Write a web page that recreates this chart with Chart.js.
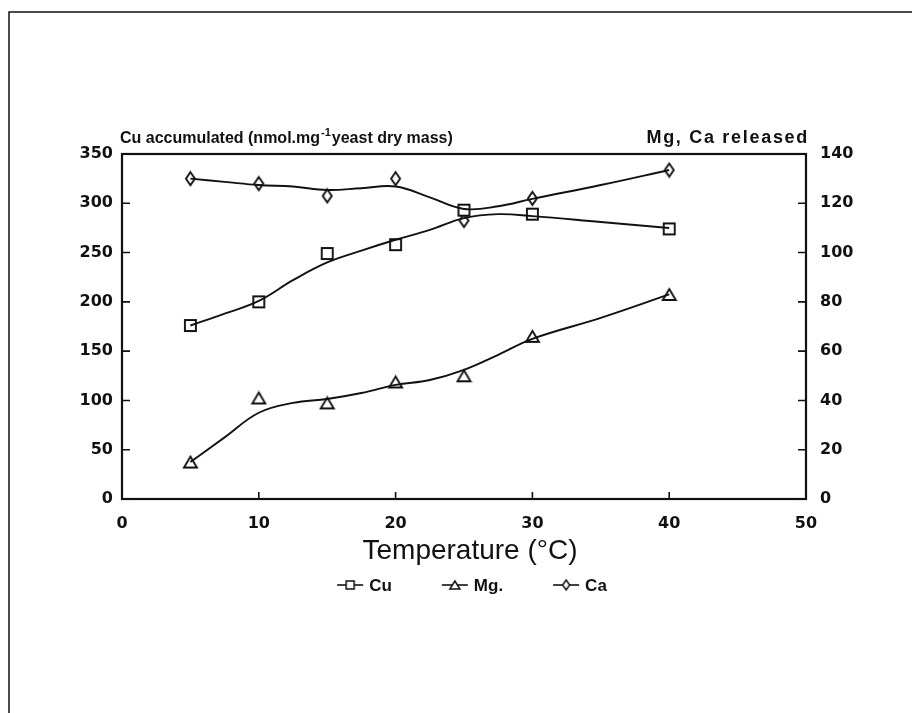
<!DOCTYPE html>
<html>
<head>
<meta charset="utf-8">
<script src="https://cdn.jsdelivr.net/npm/chart.js@4"></script>
<style>
    html, body { margin: 0; padding: 0; background: #fff; }
    #wrap { width: 912px; height: 713px; position: relative; }
</style>
</head>
<body>
<div id="wrap"><canvas id="chart"></canvas></div>
<script>
'use strict';

// measured points
const temps = [5, 10, 15, 20, 25, 30, 40];
const cu_measured = [176, 200, 249, 258, 293, 289, 274];
const mg_measured = [15, 41, 39, 47.5, 50, 66, 83];
const ca_measured = [130, 128, 123, 130, 113, 122, 133.5];

// fitted curves
const fit_temps = [5, 7.5, 10, 12.5, 15, 17.5, 20, 22.5, 25, 27.5, 30, 35, 40];
const cu_fit = [176, 188, 201, 222, 240, 252, 263, 273, 285, 289, 287, 281, 275];
const mg_fit = [15, 25, 35, 39, 40.6, 43, 46.3, 48.3, 52.4, 58.5, 65, 73.5, 83];
const ca_fit = [130, 128.7, 127.4, 126.8, 125.4, 126.1, 126.8, 122.4, 117.7, 118.8, 121.8, 127.4, 133.5];

const x_ticks = [0, 10, 20, 30, 40, 50];
const left_ticks = [0, 50, 100, 150, 200, 250, 300, 350];
const right_ticks = [0, 20, 40, 60, 80, 100, 120, 140];

const series_names = ['Cu', 'Mg.', 'Ca'];
const left_title = ['Cu accumulated (nmol.mg', '-1', 'yeast dry mass)'];
const right_title = 'Mg, Ca released';
const x_title = 'Temperature (\u00b0C)';

const INK = '#111';
const TICK_FONT = { family: 'DejaVu Sans', size: 16, weight: 'bold' };

function pairs(xs, ys) {
    return xs.map((x, i) => ({ x: x, y: ys[i] }));
}

function make_marker(kind, w, h, lw) {
    let c = document.createElement('canvas');
    c.width = w + 4;
    c.height = h + 4;
    let ctx = c.getContext('2d');
    ctx.fillStyle = '#fff';
    ctx.strokeStyle = INK;
    ctx.lineWidth = lw;
    ctx.beginPath();
    if (kind === 'square') {
        ctx.rect(2, 2, w, h);
    } else if (kind === 'triangle') {
        ctx.moveTo(2 + w / 2, 2);
        ctx.lineTo(2 + w, 2 + h);
        ctx.lineTo(2, 2 + h);
        ctx.closePath();
    } else {
        ctx.moveTo(2 + w / 2, 2);
        ctx.lineTo(2 + w, 2 + h / 2);
        ctx.lineTo(2 + w / 2, 2 + h);
        ctx.lineTo(2, 2 + h / 2);
        ctx.closePath();
    }
    ctx.fill();
    ctx.stroke();
    return c;
}

const markers = {
    square: make_marker('square', 11, 11, 1.9),
    triangle: make_marker('triangle', 13, 11, 1.9),
    diamond: make_marker('diamond', 9, 13, 1.9)
};
const legend_markers = {
    square: make_marker('square', 8, 8, 1.5),
    triangle: make_marker('triangle', 10, 8, 1.5),
    diamond: make_marker('diamond', 7, 10, 1.5)
};

function curve(data, axis) {
    return {
        type: 'line',
        data: data,
        yAxisID: axis,
        borderColor: INK,
        borderWidth: 1.9,
        pointRadius: 0,
        tension: 0.4,
        fill: false
    };
}

function points(data, axis, style) {
    return {
        type: 'scatter',
        data: data,
        yAxisID: axis,
        showLine: false,
        pointStyle: style,
        pointRadius: 7
    };
}

// inward ticks, plot box, titles and legend
const decorations = {
    id: 'decorations',
    afterDraw(chart) {
        let ctx = chart.ctx,
            area = chart.chartArea,
            sx = chart.scales.x,
            sy = chart.scales.y,
            sy1 = chart.scales.y1;
        ctx.save();
        ctx.strokeStyle = INK;
        ctx.fillStyle = INK;

        // page frame
        ctx.lineWidth = 1.5;
        ctx.beginPath();
        ctx.moveTo(9, 713);
        ctx.lineTo(9, 12);
        ctx.lineTo(912, 12);
        ctx.stroke();

        // plot box
        ctx.lineWidth = 2.2;
        ctx.strokeRect(area.left, area.top, area.right - area.left, area.bottom - area.top);

        ctx.lineWidth = 1.6;
        ctx.beginPath();
        x_ticks.forEach((v) => {
            let px = sx.getPixelForValue(v);
            ctx.moveTo(px, area.bottom);
            ctx.lineTo(px, area.bottom - 7);
        });
        left_ticks.forEach((v) => {
            let py = sy.getPixelForValue(v);
            ctx.moveTo(area.left, py);
            ctx.lineTo(area.left + 8, py);
        });
        right_ticks.forEach((v) => {
            let py = sy1.getPixelForValue(v);
            ctx.moveTo(area.right, py);
            ctx.lineTo(area.right - 8, py);
        });
        ctx.stroke();

        // axis titles on top
        ctx.textBaseline = 'alphabetic';
        ctx.font = 'bold 16px "Liberation Sans"';
        ctx.textAlign = 'left';
        let tx = area.left - 2,
            ty = area.top - 11;
        ctx.fillText(left_title[0], tx, ty);
        tx += ctx.measureText(left_title[0]).width + 1;
        ctx.font = 'bold 11px "Liberation Sans"';
        ctx.fillText(left_title[1], tx, ty - 7);
        tx += ctx.measureText(left_title[1]).width + 1;
        ctx.font = 'bold 16px "Liberation Sans"';
        ctx.fillText(left_title[2], tx, ty);
        ctx.textAlign = 'right';
        ctx.font = 'bold 18px "Liberation Sans"';
        ctx.letterSpacing = '1.7px';
        ctx.fillText(right_title, area.right + 3, ty);
        ctx.letterSpacing = '0px';

        // x title
        ctx.font = '28px "Liberation Sans"';
        ctx.textAlign = 'center';
        ctx.textBaseline = 'middle';
        ctx.fillText(x_title, (area.left + area.right) / 2 + 6, 551);

        // legend
        let styles = ['square', 'triangle', 'diamond'],
            line_len = 26,
            gap = 6,
            spacing = 50,
            ly = 585;
        ctx.font = 'bold 17px "Liberation Sans"';
        ctx.textBaseline = 'middle';
        ctx.textAlign = 'left';
        let widths = series_names.map((n) => line_len + gap + ctx.measureText(n).width),
            total = widths.reduce((a, b) => a + b, 0) + spacing * (series_names.length - 1),
            lx = (area.left + area.right) / 2 + 8 - total / 2;
        ctx.lineWidth = 1.6;
        series_names.forEach((name, i) => {
            ctx.beginPath();
            ctx.moveTo(lx, ly);
            ctx.lineTo(lx + line_len, ly);
            ctx.stroke();
            let m = legend_markers[styles[i]];
            ctx.drawImage(m, lx + line_len / 2 - m.width / 2, ly - m.height / 2);
            ctx.fillText(name, lx + line_len + gap, ly + 1);
            lx += widths[i] + spacing;
        });
        ctx.restore();
    }
};

const chart = new Chart(document.getElementById('chart'), {
    data: {
        datasets: [
            curve(pairs(fit_temps, cu_fit), 'y'),
            curve(pairs(fit_temps, mg_fit), 'y1'),
            curve(pairs(fit_temps, ca_fit), 'y1'),
            points(pairs(temps, cu_measured), 'y', markers.square),
            points(pairs(temps, mg_measured), 'y1', markers.triangle),
            points(pairs(temps, ca_measured), 'y1', markers.diamond)
        ]
    },
    options: {
        responsive: true,
        maintainAspectRatio: false,
        animation: false,
        layout: { padding: { top: 154, left: 0, right: 0, bottom: 0 } },
        plugins: {
            legend: { display: false },
            tooltip: { enabled: false }
        },
        scales: {
            x: {
                type: 'linear',
                min: 0,
                max: 50,
                afterBuildTicks: (s) => { s.ticks = x_ticks.map((v) => ({ value: v })); },
                afterFit: (s) => { s.height = 214; },
                grid: { display: false, drawTicks: false },
                border: { display: false },
                ticks: { color: INK, font: TICK_FONT, padding: 15 }
            },
            y: {
                position: 'left',
                min: 0,
                max: 350,
                afterBuildTicks: (s) => { s.ticks = left_ticks.map((v) => ({ value: v })); },
                afterFit: (s) => { s.width = 122; },
                grid: { display: false, drawTicks: false },
                border: { display: false },
                ticks: { color: INK, font: TICK_FONT, padding: 9 }
            },
            y1: {
                position: 'right',
                min: 0,
                max: 140,
                afterBuildTicks: (s) => { s.ticks = right_ticks.map((v) => ({ value: v })); },
                afterFit: (s) => { s.width = 106; },
                grid: { display: false, drawTicks: false },
                border: { display: false },
                ticks: { color: INK, font: TICK_FONT, padding: 14 }
            }
        }
    },
    plugins: [decorations]
});
</script>
</body>
</html>
